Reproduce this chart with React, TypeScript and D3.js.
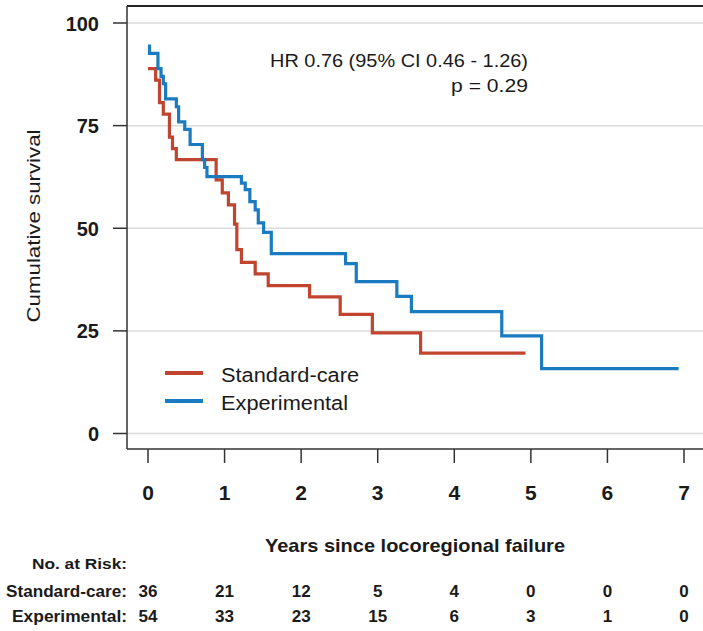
import React from 'react';
import * as d3 from 'd3';

const W = 703;
const H = 631;

// Axis ticks
const yTicks = [0, 25, 50, 75, 100];
const xTicks = [0, 1, 2, 3, 4, 5, 6, 7];

// Kaplan-Meier step estimates (years, % surviving after each drop)
const stdTimes = [0, 0.1, 0.15, 0.2, 0.28, 0.32, 0.37, 0.89, 0.97, 1.05, 1.13, 1.16, 1.22, 1.4, 1.57, 2.11, 2.51, 2.93, 3.56];
const stdSurv = [88.9, 86.1, 80.6, 77.8, 72.2, 69.4, 66.7, 61.8, 58.6, 55.7, 51.0, 44.8, 41.7, 38.9, 36.0, 33.3, 29.0, 24.5, 19.6];
const stdEnd = 4.93;

const expTimes = [0, 0.02, 0.13, 0.17, 0.2, 0.23, 0.37, 0.4, 0.48, 0.55, 0.71, 0.74, 0.77, 1.22, 1.27, 1.33, 1.4, 1.44, 1.51, 1.61, 2.58, 2.72, 3.25, 3.44, 4.62, 5.14];
const expSurv = [94.4, 92.6, 88.9, 87.0, 85.2, 81.5, 79.6, 75.9, 74.1, 70.4, 66.7, 64.8, 62.6, 61.0, 59.4, 56.5, 54.5, 51.3, 49.0, 43.8, 41.4, 37.0, 33.4, 29.7, 23.8, 15.8];
const expEnd = 6.93;

// Numbers at risk per year
const riskStd = [36, 21, 12, 5, 4, 0, 0, 0];
const riskExp = [54, 33, 23, 15, 6, 3, 1, 0];

const RED = '#c1442f';
const BLUE = '#1b7bc0';
const FONT = '"Liberation Sans", Arial, Helvetica, sans-serif';
const INK = '#1a1a1a';

type Pt = [number, number];

function steps(times: number[], surv: number[], end: number): Pt[] {
  const pts: Pt[] = times.map((t, i) => [t, surv[i]]);
  pts.push([end, surv[surv.length - 1]]);
  return pts;
}

export default function App() {
  const x = d3.scaleLinear().domain([0, 7]).range([148, 684]);
  const y = d3.scaleLinear().domain([0, 100]).range([433.5, 23]);

  const left = 127;
  const top = 6;
  const bottom = 449;

  const line = d3
    .line<Pt>()
    .x((d) => x(d[0]))
    .y((d) => y(d[1]))
    .curve(d3.curveStepAfter);

  const stdPath = line(steps(stdTimes, stdSurv, stdEnd)) || '';
  const expPath = line(steps(expTimes, expSurv, expEnd)) || '';

  return (
    <svg
      width={W}
      height={H}
      style={{ position: 'absolute', left: 0, top: 0, background: '#fff' }}
      fontFamily={FONT}
    >
      <rect x={0} y={0} width={W} height={H} fill="#fff" />

      {/* gridlines */}
      {yTicks.map((t) => (
        <line key={'g' + t} x1={left} x2={W} y1={y(t)} y2={y(t)} stroke="#dcdcdc" strokeWidth={1.5} />
      ))}

      {/* frame */}
      <line x1={left} x2={W} y1={top} y2={top} stroke="#222" strokeWidth={2} />
      <line x1={left} x2={left} y1={top} y2={bottom} stroke="#333" strokeWidth={1.5} />
      <line x1={left} x2={W} y1={bottom} y2={bottom} stroke="#333" strokeWidth={1.5} />

      {/* y axis */}
      {yTicks.map((t) => (
        <g key={'y' + t}>
          <line x1={113} x2={left} y1={y(t)} y2={y(t)} stroke="#333" strokeWidth={1.5} />
          <text x={99} y={y(t) + 7.5} textAnchor="end" fontSize={20} fontWeight="bold" fill={INK}>
            {t}
          </text>
        </g>
      ))}
      <text
        transform={`translate(40,226) rotate(-90)`}
        textAnchor="middle"
        fontSize={19}
        fill={INK}
        textLength={193}
        lengthAdjust="spacingAndGlyphs"
      >
        Cumulative survival
      </text>

      {/* x axis */}
      {xTicks.map((t) => (
        <g key={'x' + t}>
          <line x1={x(t)} x2={x(t)} y1={bottom} y2={463} stroke="#333" strokeWidth={1.5} />
          <text x={x(t)} y={500} textAnchor="middle" fontSize={21} fontWeight="bold" fill={INK}>
            {t}
          </text>
        </g>
      ))}
      <text
        x={415}
        y={552}
        textAnchor="middle"
        fontSize={19}
        fontWeight="bold"
        fill={INK}
        textLength={300}
        lengthAdjust="spacingAndGlyphs"
      >
        Years since locoregional failure
      </text>

      {/* survival curves */}
      <path d={stdPath} fill="none" stroke={RED} strokeWidth={3.2} />
      <path d={expPath} fill="none" stroke={BLUE} strokeWidth={3.2} />

      {/* annotation */}
      <text x={528} y={67} textAnchor="end" fontSize={18.5} fill={INK} textLength={258} lengthAdjust="spacingAndGlyphs">
        HR 0.76 (95% CI 0.46 - 1.26)
      </text>
      <text x={528} y={92} textAnchor="end" fontSize={18.5} fill={INK} textLength={77} lengthAdjust="spacingAndGlyphs">
        p = 0.29
      </text>

      {/* legend */}
      <line x1={165} x2={203} y1={373} y2={373} stroke={RED} strokeWidth={4} />
      <text x={221} y={382} fontSize={20} fill={INK} textLength={138} lengthAdjust="spacingAndGlyphs">
        Standard-care
      </text>
      <line x1={165} x2={203} y1={401} y2={401} stroke={BLUE} strokeWidth={4} />
      <text x={221} y={410} fontSize={20} fill={INK} textLength={127} lengthAdjust="spacingAndGlyphs">
        Experimental
      </text>

      {/* numbers at risk */}
      <text x={127} y={569} textAnchor="end" fontSize={15} fontWeight="bold" fill={INK} textLength={95} lengthAdjust="spacingAndGlyphs">
        No. at Risk:
      </text>
      <text x={127} y={597} textAnchor="end" fontSize={16} fontWeight="bold" fill={INK} textLength={121} lengthAdjust="spacingAndGlyphs">
        Standard-care:
      </text>
      <text x={127} y={622} textAnchor="end" fontSize={16} fontWeight="bold" fill={INK} textLength={115} lengthAdjust="spacingAndGlyphs">
        Experimental:
      </text>
      {riskStd.map((n, i) => (
        <text key={'rs' + i} x={x(xTicks[i])} y={597} textAnchor="middle" fontSize={17} fontWeight="bold" fill={INK}>
          {n}
        </text>
      ))}
      {riskExp.map((n, i) => (
        <text key={'re' + i} x={x(xTicks[i])} y={622} textAnchor="middle" fontSize={17} fontWeight="bold" fill={INK}>
          {n}
        </text>
      ))}
    </svg>
  );
}
